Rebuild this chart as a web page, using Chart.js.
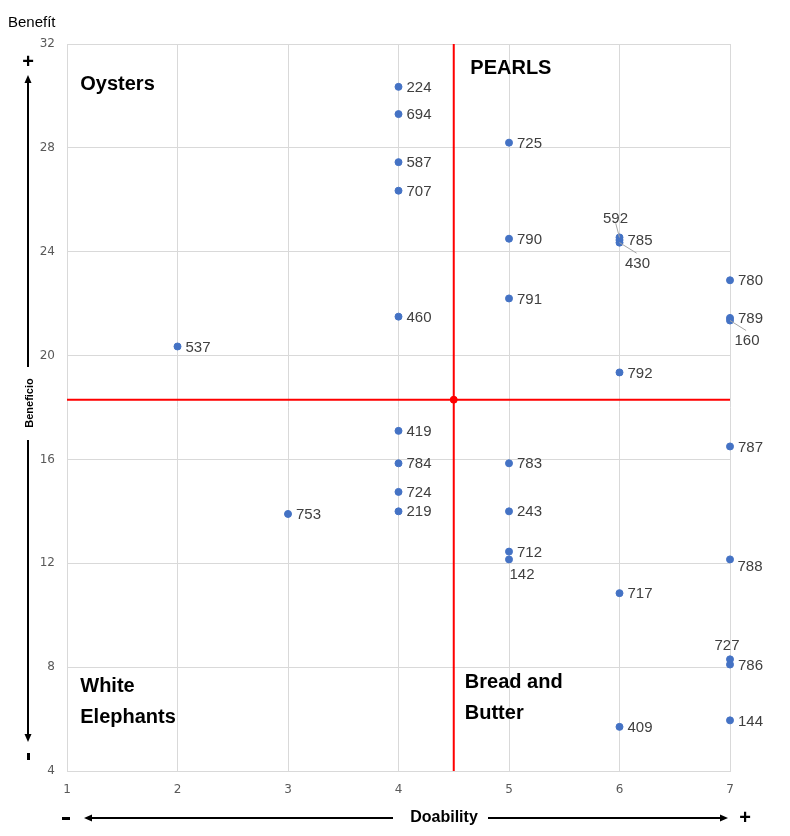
<!DOCTYPE html>
<html>
<head>
<meta charset="utf-8">
<script src="https://cdn.jsdelivr.net/npm/chart.js@4"></script>
<style>
  body { margin: 0; background: #fff; }
  #wrap { width: 790px; height: 836px; }
</style>
</head>
<body>
<div id="wrap"><canvas id="myChart" width="790" height="836"></canvas></div>
<script>
// project ids and their doability / benefit scores
const ids       = ['224','694','587','707','460','537','725','790','791','592','785','430','780','789','160','792',
                   '419','784','724','219','753','783','243','712','142','787','788','717','727','786','409','144'];
const doability = [4, 4, 4, 4, 4, 2, 5, 5, 5, 6, 6, 6, 7, 7, 7, 6,
                   4, 4, 4, 4, 3, 5, 5, 5, 5, 7, 7, 6, 7, 7, 6, 7];
const benefit   = [30.35, 29.3, 27.45, 26.35, 21.5, 20.35, 28.2, 24.5, 22.2, 24.55, 24.45, 24.35, 22.9, 21.45, 21.35, 19.35,
                   17.1, 15.85, 14.75, 14.0, 13.9, 15.85, 14.0, 12.45, 12.15, 16.5, 12.15, 10.85, 8.3, 8.1, 5.7, 5.95];

// quadrant split
const midX = 4.5;
const midY = 18.3;

const xTicks = [1, 2, 3, 4, 5, 6, 7];
const yTicks = [4, 8, 12, 16, 20, 24, 28, 32];

const quadrantNames = [
  {text: ['Oysters'], x: 1.12, y: 30.45},
  {text: ['PEARLS'], x: 4.65, y: 31.05},
  {text: ['White', 'Elephants'], x: 1.12, y: 7.25},
  {text: ['Bread and', 'Butter'], x: 4.6, y: 7.4}
];

// labels that do not sit to the right of their point: [dx, dy, leader]
const labelMoves = {
  '592': [-4, -19, true],
  '430': [18, 21, true],
  '160': [17, 20, true],
  '142': [13, 15, false],
  '788': [20, 7, false],
  '727': [-3, -13, false]
};

const points = ids.map(function(id, i) { return {x: doability[i], y: benefit[i]}; });

const labelPlugin = {
  id: 'labels',
  beforeDatasetsDraw(chart) {
    const c = chart.ctx, xs = chart.scales.x, ys = chart.scales.y, a = chart.chartArea;
    c.save();
    c.strokeStyle = '#ff0000';
    c.lineWidth = 2;
    c.beginPath();
    c.moveTo(xs.getPixelForValue(midX), a.top);
    c.lineTo(xs.getPixelForValue(midX), a.bottom);
    c.moveTo(a.left, ys.getPixelForValue(midY));
    c.lineTo(a.right, ys.getPixelForValue(midY));
    c.stroke();
    c.restore();
  },
  afterDatasetsDraw(chart) {
    const c = chart.ctx, xs = chart.scales.x, ys = chart.scales.y;
    c.save();
    c.font = '15px "Liberation Sans", Arial, sans-serif';
    c.fillStyle = '#404040';
    ids.forEach(function(id, i) {
      const px = xs.getPixelForValue(doability[i]);
      const py = ys.getPixelForValue(benefit[i]);
      const mv = labelMoves[id];
      if (!mv) {
        c.textAlign = 'left'; c.textBaseline = 'middle';
        c.fillText(id, px + 8, py + 1);
        return;
      }
      if (mv[2]) {
        c.strokeStyle = '#a6a6a6'; c.lineWidth = 1;
        c.beginPath();
        c.moveTo(px, py);
        c.lineTo(px + mv[0] * 0.95, py + mv[1] * (mv[1] > 0 ? 0.5 : 0.75));
        c.stroke();
      }
      c.textAlign = 'center'; c.textBaseline = 'middle';
      c.fillText(id, px + mv[0], py + mv[1]);
    });
    // quadrant names
    c.fillStyle = '#000';
    c.font = 'bold 20px "Liberation Sans", Arial, sans-serif';
    c.textAlign = 'left'; c.textBaseline = 'middle';
    quadrantNames.forEach(function(q) {
      q.text.forEach(function(t, k) {
        c.fillText(t, xs.getPixelForValue(q.x), ys.getPixelForValue(q.y) + k * 31);
      });
    });
    c.restore();
  },
  afterDraw(chart) {
    const c = chart.ctx;
    c.save();
    c.fillStyle = '#000'; c.strokeStyle = '#000';
    c.font = '15px "Liberation Sans", Arial, sans-serif';
    c.textAlign = 'left'; c.textBaseline = 'middle';
    c.fillText('Benefít', 8, 23);

    // vertical arrow
    c.lineWidth = 2;
    c.beginPath();
    c.moveTo(28, 80); c.lineTo(28, 367);
    c.moveTo(28, 440); c.lineTo(28, 736);
    c.stroke();
    c.beginPath();
    c.moveTo(28, 75); c.lineTo(24.5, 83); c.lineTo(31.5, 83); c.closePath();
    c.moveTo(28, 742); c.lineTo(24.5, 734); c.lineTo(31.5, 734); c.closePath();
    c.fill();
    c.font = 'bold 20px "Liberation Sans", Arial, sans-serif';
    c.textAlign = 'center';
    c.fillText('+', 28, 62);
    c.fillRect(27, 753, 3, 7);
    c.save();
    c.translate(30, 403);
    c.rotate(-Math.PI / 2);
    c.font = 'bold 11px "Liberation Sans", Arial, sans-serif';
    c.fillText('Beneficio', 0, 0);
    c.restore();

    // horizontal arrow
    c.beginPath();
    c.moveTo(90, 818); c.lineTo(393, 818);
    c.moveTo(488, 818); c.lineTo(722, 818);
    c.stroke();
    c.beginPath();
    c.moveTo(84, 818); c.lineTo(92, 814.5); c.lineTo(92, 821.5); c.closePath();
    c.moveTo(728, 818); c.lineTo(720, 814.5); c.lineTo(720, 821.5); c.closePath();
    c.fill();
    c.fillRect(62, 817, 8, 3);
    c.font = 'bold 20px "Liberation Sans", Arial, sans-serif';
    c.fillText('+', 745, 818);
    c.font = 'bold 16px "Liberation Sans", Arial, sans-serif';
    c.fillText('Doability', 444, 818);
    c.restore();
  }
};

const ctx = document.getElementById('myChart').getContext('2d');
const myChart = new Chart(ctx, {
  type: 'scatter',
  data: {
    datasets: [{
      data: points,
      backgroundColor: '#4472C4',
      borderColor: '#4472C4',
      pointRadius: 3.5,
      pointHoverRadius: 3.5,
      clip: false
    }, {
      data: [{x: midX, y: midY}],
      backgroundColor: '#ff0000',
      borderColor: '#ff0000',
      pointRadius: 3.5,
      clip: false
    }]
  },
  options: {
    responsive: false,
    animation: false,
    layout: { padding: { left: 0, top: 44, right: 60, bottom: 0 } },
    plugins: { legend: { display: false }, tooltip: { enabled: false } },
    scales: {
      x: {
        type: 'linear',
        min: 1, max: 7,
        afterFit: function(s) { s.height = 65; },
        afterBuildTicks: function(s) { s.ticks = xTicks.map(function(v) { return {value: v}; }); },
        grid: { color: '#d9d9d9', drawTicks: false },
        border: { color: '#d9d9d9' },
        ticks: { color: '#595959', padding: 12, font: { size: 12, family: '"DejaVu Sans", sans-serif' } }
      },
      y: {
        min: 4, max: 32,
        afterFit: function(s) { s.width = 67; },
        afterBuildTicks: function(s) { s.ticks = yTicks.map(function(v) { return {value: v}; }); },
        grid: { color: '#d9d9d9', drawTicks: false },
        border: { color: '#d9d9d9' },
        ticks: { color: '#595959', padding: 12, font: { size: 12, family: '"DejaVu Sans", sans-serif' } }
      }
    }
  },
  plugins: [labelPlugin]
});
</script>
</body>
</html>
